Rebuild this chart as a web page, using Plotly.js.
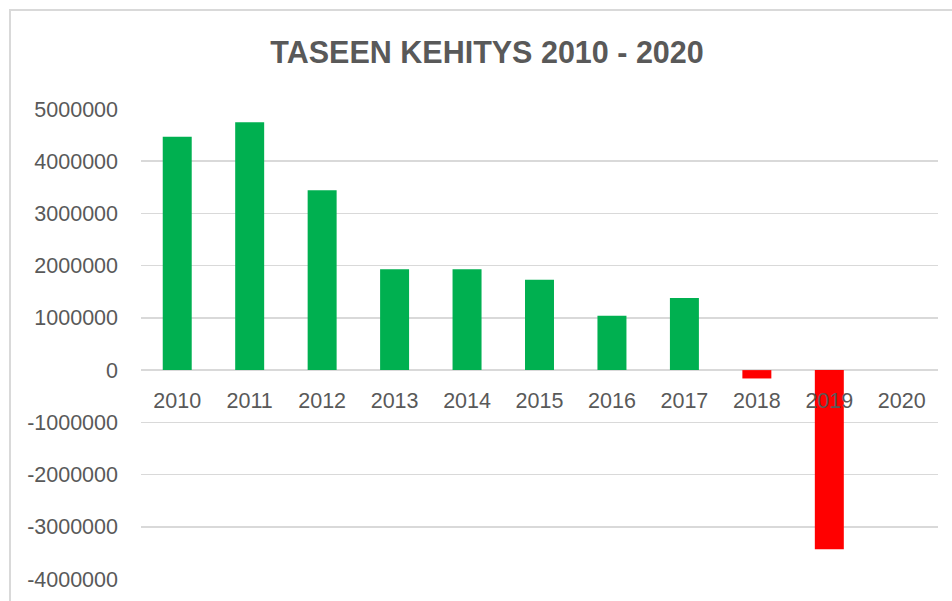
<!DOCTYPE html>
<html>
<head>
<meta charset="utf-8">
<script src="https://cdn.plot.ly/plotly-3.0.1.min.js"></script>
<style>
  html, body { margin: 0; padding: 0; background: #ffffff; }
  #wrap { position: relative; width: 952px; height: 601px; overflow: hidden; }
  #chart { width: 952px; height: 601px; }
  #frame { position: absolute; left: 9px; top: 9px; width: 1000px; height: 700px;
           border-left: 2px solid #D9D9D9; border-top: 2px solid #D9D9D9; pointer-events: none; }
</style>
</head>
<body>
<div id="wrap">
  <div id="chart"></div>
  <div id="frame"></div>
</div>
<script>
const years = ['2010','2011','2012','2013','2014','2015','2016','2017','2018','2019','2020'];
const balance = [4470000, 4745000, 3445000, 1930000, 1930000, 1730000, 1040000, 1380000, -160000, -3430000, null];
const yTickVals = [-4000000, -3000000, -2000000, -1000000, 0, 1000000, 2000000, 3000000, 4000000, 5000000];
const yTickText = ['-4000000', '-3000000', '-2000000', '-1000000', '0', '1000000', '2000000', '3000000', '4000000', '5000000'];
const positiveColor = '#00B050';
const negativeColor = '#FF0000';

const barColors = balance.map(v => (v !== null && v < 0) ? negativeColor : positiveColor);

const trace = {
  type: 'bar',
  x: years,
  y: balance,
  marker: { color: barColors, line: { width: 0 } },
  hoverinfo: 'x+y'
};

const textColor = '#595959';
const gridColor = '#D9D9D9';
const fontFamily = '"Liberation Sans", Arial, sans-serif';

const layout = {
  width: 952,
  height: 601,
  margin: { l: 141, r: 14, t: 109, b: 22, pad: 0 },
  paper_bgcolor: '#ffffff',
  plot_bgcolor: '#ffffff',
  showlegend: false,
  bargap: 0.6,
  title: {
    text: '<b>TASEEN KEHITYS 2010 - 2020</b>',
    font: { family: fontFamily, size: 30.5, color: textColor },
    x: 0.5116, xref: 'container', xanchor: 'center',
    y: 0.9126, yref: 'container', yanchor: 'middle'
  },
  xaxis: {
    type: 'category',
    range: [-0.5, 10.5],
    anchor: 'free',
    position: 4 / 9,
    showgrid: false,
    showline: false,
    zeroline: false,
    ticks: '',
    ticklabelstandoff: 15,
    tickfont: { family: fontFamily, size: 21.5, color: textColor },
    fixedrange: true
  },
  yaxis: {
    range: [-4000000, 5000000],
    tickmode: 'array',
    tickvals: yTickVals,
    ticktext: yTickText,
    showgrid: true,
    gridcolor: gridColor,
    gridwidth: 1.5,
    zeroline: true,
    zerolinecolor: gridColor,
    zerolinewidth: 1.5,
    showline: false,
    ticks: '',
    ticklabelstandoff: 22,
    tickfont: { family: fontFamily, size: 21.5, color: textColor },
    fixedrange: true
  }
};

Plotly.newPlot('chart', [trace], layout, { displayModeBar: false, staticPlot: true });
</script>
</body>
</html>
